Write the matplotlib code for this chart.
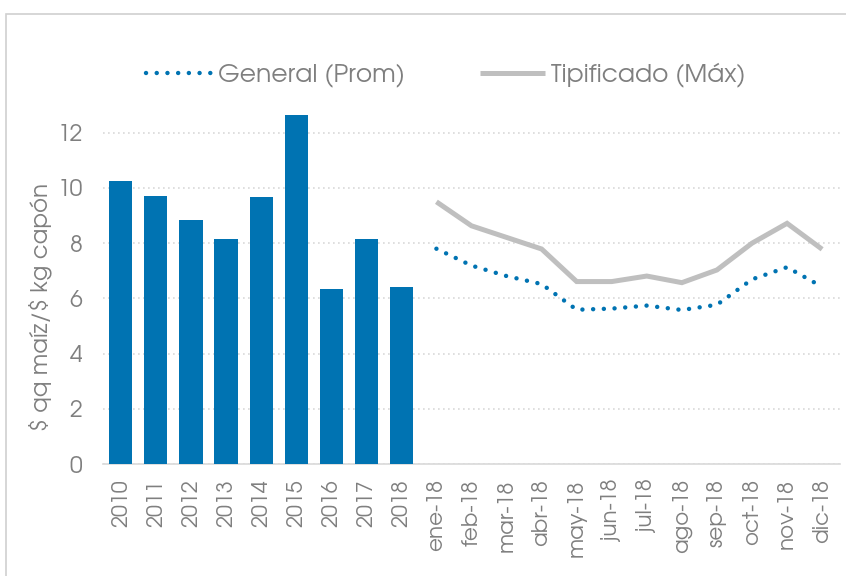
import numpy as np
import matplotlib
matplotlib.use("Agg")
import matplotlib.pyplot as plt
from matplotlib.patches import Rectangle

# annual ratio (bars) and 2018 monthly series (lines)
years = ["2010", "2011", "2012", "2013", "2014", "2015", "2016", "2017", "2018"]
annual = [10.26, 9.72, 8.83, 8.16, 9.67, 12.63, 6.33, 8.16, 6.42]
months = ["ene-18", "feb-18", "mar-18", "abr-18", "may-18", "jun-18",
          "jul-18", "ago-18", "sep-18", "oct-18", "nov-18", "dic-18"]
general = [7.80, 7.19, 6.81, 6.52, 5.59, 5.63, 5.74, 5.58, 5.77, 6.69, 7.13, 6.42]
tipificado = [9.50, 8.63, 8.21, 7.79, 6.61, 6.61, 6.81, 6.57, 7.03, 8.00, 8.72, 7.78]

BLUE = "#0073b2"
GREY = "#bfbfbf"
TXT = "#7f7f7f"
# Century Gothic look-alikes first, DejaVu as the fallback
plt.rcParams["font.family"] = ["URW Gothic", "TeX Gyre Adventor", "Questrial",
                               "Didact Gothic", "DejaVu Sans"]

fig = plt.figure(figsize=(8.46, 5.76), dpi=100)
# outer chart border
fig.patches.append(Rectangle((5.5 / 846, -0.05), 1.1, 1 - 14 / 576 + 0.05,
                             transform=fig.transFigure, fill=False,
                             edgecolor="#d0d0d0", lw=1.2))

ax = fig.add_axes([0.1221, 0.1944, 0.8704, 0.6230])
labels = years + months
xb = np.arange(len(years))
xm = np.arange(len(years), len(labels))

ax.bar(xb, annual, width=0.66, color=BLUE, zorder=3)
ax.plot(xm, general, color=BLUE, lw=3.2, ls=(0, (0.01, 2.4)),
        dash_capstyle="round", zorder=4, label="General (Prom)")
ax.plot(xm, tipificado, color=GREY, lw=3.6, solid_capstyle="butt",
        solid_joinstyle="miter", zorder=4, label="Tipificado (Máx)")

ax.set_xlim(-0.5, len(labels) - 0.5)
ax.set_ylim(0, 13)
ax.set_yticks(range(0, 13, 2))
ax.set_xticks(np.arange(len(labels)))
ax.set_xticklabels(labels, rotation=90)
ax.tick_params(axis="both", length=0, colors=TXT)
ax.tick_params(axis="x", pad=11, labelsize=15.5)
ax.tick_params(axis="y", pad=15, labelsize=16.5)
ax.grid(axis="y", color="#d9d9d9", ls=(0, (1, 2)), lw=1.2, zorder=0)
for s in ["top", "right", "left"]:
    ax.spines[s].set_visible(False)
ax.spines["bottom"].set_color("#d9d9d9")
ax.spines["bottom"].set_linewidth(1.2)
ax.set_ylabel(r"\$ qq maíz/\$ kg capón", color=TXT, fontsize=16.5)
ax.yaxis.set_label_coords(-0.07, 0.437)

leg = fig.legend(loc="center", bbox_to_anchor=(0.527, 0.87), ncol=2,
                 frameon=False, fontsize=18, handlelength=2.6,
                 columnspacing=3.0, handletextpad=0.25)
for t in leg.get_texts():
    t.set_color(TXT)

fig.savefig("out.png", dpi=100)
